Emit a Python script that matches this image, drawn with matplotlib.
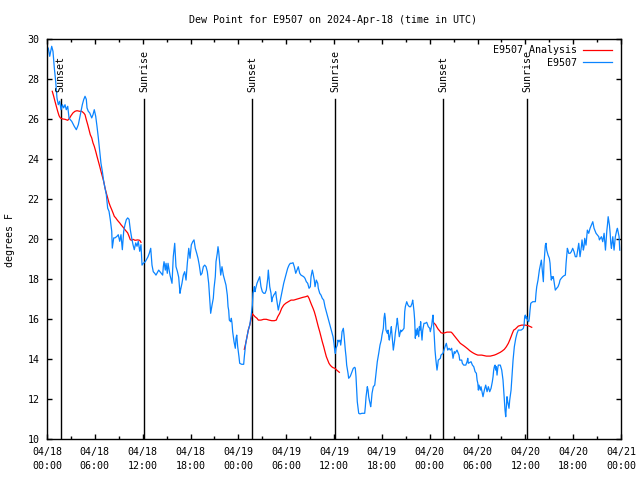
#!/usr/bin/env python
# -*- coding: utf-8 -*-

import numpy as np
import pandas as pd
import matplotlib
matplotlib.use('Agg')
import matplotlib.pyplot as plt
import matplotlib.dates as mdates

# hours after 2024-04-18 00:00 UTC, dew point in deg F
obs_hours = [0.16, 0.34, 0.59, 0.75, 0.92, 1.09, 1.25, 1.42, 1.59, 1.76, 1.92, 2.09, 2.26, 2.42, 2.60,
             2.76, 2.92, 3.10, 3.42, 3.68, 3.93, 4.10, 4.27, 4.43, 4.60, 4.77, 4.93, 5.02, 5.18, 5.36,
             5.61, 5.77, 5.93, 6.11, 6.27, 6.44, 6.61, 6.77, 6.94, 7.11, 7.28, 7.44, 7.61, 7.78, 7.94,
             8.12, 8.19, 8.37, 8.53, 8.78, 8.94, 9.12, 9.28, 9.45, 9.62, 9.78, 9.95, 10.12, 10.29, 10.45,
             10.62, 10.79, 10.95, 11.13, 11.29, 11.45, 11.63, 11.79, 11.92, 12.08, 12.33, 12.67, 12.83,
             13.01, 13.17, 13.33, 13.51, 13.67, 14.01, 14.34, 14.51, 14.59, 14.68, 14.84, 14.93, 15.09,
             15.18, 15.43, 15.59, 15.68, 15.84, 16.02, 16.18, 16.35, 16.52, 16.68, 16.77, 16.93, 17.10,
             17.27, 17.44, 17.60, 17.78, 17.94, 18.10, 18.28, 18.44, 18.60, 18.78, 18.94, 19.10, 19.28,
             19.44, 19.61, 19.78, 19.95, 20.11, 20.28, 20.36, 20.45, 20.53, 20.70, 20.86, 20.95, 21.11,
             21.20, 21.36, 21.45, 21.54, 21.70, 21.79, 21.95, 22.12, 22.29, 22.45, 22.62, 22.71, 22.79,
             22.87, 23.04, 23.12, 23.21, 23.29, 23.46, 23.62, 23.71, 23.80, 23.92, 24.08, 24.17, 24.42,
             24.67, 24.75, 24.84, 24.93, 25.09, 25.25, 25.43, 25.59, 25.76, 25.84, 25.93, 26.01, 26.09,
             26.18, 26.34, 26.51, 26.68, 26.76, 26.84, 27.01, 27.19, 27.35, 27.51, 27.69, 27.76, 27.85,
             27.94, 28.10, 28.19, 28.26, 28.44, 28.60, 28.69, 28.76, 28.85, 28.94, 29.01, 29.19, 29.35,
             29.52, 29.69, 29.85, 30.02, 30.19, 30.36, 30.52, 30.70, 30.86, 31.02, 31.20, 31.36, 31.52,
             31.70, 31.86, 32.03, 32.20, 32.36, 32.53, 32.70, 32.87, 33.03, 33.12, 33.28, 33.37, 33.45,
             33.53, 33.62, 33.78, 33.96, 34.03, 34.21, 34.37, 34.53, 34.71, 34.87, 35.04, 35.21, 35.37,
             35.54, 35.71, 35.88, 36.00, 36.09, 36.17, 36.25, 36.42, 36.50, 36.59, 36.75, 36.84, 36.92,
             37.01, 37.17, 37.26, 37.42, 37.51, 37.59, 37.76, 37.84, 38.01, 38.10, 38.26, 38.42, 38.60,
             38.67, 38.76, 38.85, 38.92, 39.10, 39.26, 39.51, 39.85, 39.93, 40.02, 40.10, 40.18, 40.27,
             40.35, 40.43, 40.52, 40.60, 40.68, 40.77, 40.93, 41.11, 41.18, 41.27, 41.35, 41.43, 41.61,
             41.77, 41.93, 42.02, 42.19, 42.27, 42.36, 42.44, 42.52, 42.69, 42.78, 42.86, 42.94, 43.03,
             43.11, 43.19, 43.28, 43.36, 43.44, 43.53, 43.61, 43.69, 43.87, 43.94, 44.03, 44.12, 44.19,
             44.28, 44.37, 44.44, 44.62, 44.78, 44.87, 44.95, 45.12, 45.28, 45.45, 45.62, 45.79, 45.87,
             45.95, 46.04, 46.12, 46.20, 46.29, 46.37, 46.45, 46.63, 46.70, 46.79, 46.87, 46.95, 47.04,
             47.13, 47.29, 47.45, 47.63, 47.83, 48.01, 48.08, 48.26, 48.33, 48.42, 48.51, 48.58, 48.67,
             48.76, 48.83, 48.92, 49.01, 49.08, 49.34, 49.42, 49.67, 49.93, 50.09, 50.26, 50.43, 50.59,
             50.76, 50.93, 51.09, 51.18, 51.43, 51.68, 51.77, 52.02, 52.10, 52.27, 52.53, 52.69, 52.78,
             52.85, 53.19, 53.36, 53.53, 53.70, 53.86, 53.95, 54.04, 54.11, 54.19, 54.36, 54.44, 54.61,
             54.69, 54.86, 55.03, 55.20, 55.36, 55.53, 55.70, 55.86, 55.95, 56.03, 56.11, 56.20, 56.28,
             56.36, 56.45, 56.54, 56.61, 56.86, 57.04, 57.12, 57.20, 57.29, 57.37, 57.45, 57.54, 57.62,
             57.70, 57.79, 57.95, 58.04, 58.21, 58.29, 58.37, 58.46, 58.54, 58.62, 58.80, 58.96, 59.12,
             59.46, 59.62, 59.75, 59.84, 59.92, 60.00, 60.09, 60.17, 60.25, 60.43, 60.50, 60.59, 60.68,
             60.93, 61.26, 61.34, 61.43, 61.59, 61.76, 61.93, 62.01, 62.09, 62.18, 62.26, 62.34, 62.43,
             62.51, 62.60, 62.68, 62.85, 63.01, 63.10, 63.18, 63.26, 63.35, 63.43, 63.51, 63.60, 63.68,
             63.76, 63.93, 64.10, 64.26, 64.35, 64.51, 64.69, 64.85, 65.02, 65.11, 65.19, 65.27, 65.35,
             65.44, 65.61, 65.77, 65.94, 66.11, 66.27, 66.44, 66.61, 66.70, 66.86, 67.03, 67.11, 67.28,
             67.36, 67.45, 67.61, 67.70, 67.78, 67.95, 68.12, 68.29, 68.46, 68.62, 68.79, 68.87, 69.21,
             69.29, 69.54, 69.71, 69.88, 70.05, 70.23, 70.30, 70.39, 70.55, 70.64, 70.72, 70.80, 70.97,
             71.13, 71.29, 71.47, 71.55, 71.76, 71.84]
obs_dewpt = [29.56, 29.15, 29.65, 29.40, 28.56, 27.90, 27.07, 26.73, 26.90, 26.48, 26.73, 26.57, 26.73, 26.48, 26.65,
             26.07, 25.98, 25.90, 25.65, 25.48, 25.73, 26.07, 26.40, 26.73, 26.98, 27.15, 27.00, 26.57, 26.40, 26.32,
             26.07, 26.23, 26.48, 26.15, 25.65, 25.07, 24.40, 23.80, 23.40, 22.90, 22.56, 22.23, 21.56, 21.40, 20.98,
             20.40, 19.56, 20.07, 20.07, 20.15, 20.23, 19.90, 20.23, 19.48, 20.40, 20.73, 20.98, 21.07, 21.00, 20.48,
             20.07, 19.73, 19.48, 19.82, 19.65, 19.90, 19.40, 19.73, 18.71, 18.80, 18.88, 19.13, 19.30,
             19.55, 18.71, 18.38, 18.30, 18.21, 18.46, 18.30, 18.21, 18.63, 18.88, 18.46, 18.80, 18.30,
             18.80, 18.21, 17.96, 17.80, 19.13, 19.80, 18.63, 18.40, 18.10, 17.30, 17.50, 17.80, 18.21,
             18.38, 17.96, 18.80, 19.55, 19.05, 19.72, 19.88, 19.97, 19.55, 19.30, 19.05, 18.71, 18.21,
             18.30, 18.63, 18.71, 18.63, 18.38, 17.80, 17.30, 16.80, 16.30, 16.71, 17.05, 17.55, 18.13,
             18.88, 19.30, 19.63, 19.38, 18.63, 18.21, 18.63, 18.21, 17.96, 17.71, 17.20, 16.63, 16.45,
             15.96, 15.88, 16.05, 15.80, 15.38, 14.88, 14.55, 15.05, 15.21, 14.63, 14.13, 13.80, 13.75,
             13.75, 14.13, 14.46, 14.80, 15.13, 15.46, 15.71, 16.13, 16.71, 17.30, 17.46, 17.63, 17.38,
             17.55, 17.80, 17.96, 18.13, 17.88, 17.63, 17.38, 17.30, 17.30, 17.46, 18.05, 18.46, 18.05,
             17.63, 17.30, 16.88, 17.05, 17.21, 17.30, 17.38, 17.13, 16.88, 16.63, 16.46, 16.80, 17.13,
             17.46, 17.80, 18.05, 18.30, 18.55, 18.71, 18.80, 18.80, 18.83, 18.63, 18.30, 18.46, 18.63,
             18.30, 18.21, 18.17, 18.13, 18.05, 17.88, 17.80, 17.55, 17.63, 18.13, 18.46, 18.30, 18.13,
             17.96, 17.63, 17.96, 17.80, 17.55, 17.30, 17.21, 17.05, 16.96, 16.63, 16.38, 16.13, 15.88,
             15.63, 15.38, 15.13, 14.80, 14.46, 14.30, 14.55, 14.71, 14.96, 14.88, 14.96, 14.71, 14.96,
             15.38, 15.55, 15.21, 14.46, 14.13, 13.71, 13.30, 13.05, 13.13, 13.21, 13.38, 13.55, 13.60,
             13.55, 13.13, 12.46, 11.88, 11.30, 11.27, 11.30, 11.30, 11.63, 12.13, 12.38, 12.63, 12.46,
             12.13, 11.96, 11.80, 11.63, 11.88, 12.30, 12.63, 12.71, 12.96, 13.30, 13.55, 13.88, 14.30,
             14.71, 14.96, 15.21, 15.55, 16.05, 16.30, 16.05, 15.46, 15.30, 15.46, 15.13, 14.96, 15.21,
             15.38, 15.63, 15.21, 14.80, 14.46, 14.71, 14.96, 15.30, 15.80, 16.05, 15.71, 15.38, 15.13,
             15.30, 15.46, 15.38, 15.46, 15.55, 16.38, 16.63, 16.88, 16.71, 16.63, 16.63, 16.80, 16.96,
             16.71, 16.38, 15.96, 15.05, 15.46, 15.21, 15.55, 15.13, 15.63, 15.46, 15.88, 15.38, 14.96,
             15.46, 15.80, 15.80, 15.85, 15.63, 15.55, 15.38, 15.71, 15.96, 16.21, 15.63, 15.13, 14.46,
             14.05, 13.80, 13.46, 13.71, 13.96, 14.05, 14.21, 14.30, 14.63, 14.80, 14.46, 14.55, 14.46,
             14.55, 14.05, 14.38, 14.30, 14.46, 14.21, 13.96, 13.96, 13.80, 13.71, 13.71, 13.88, 14.05,
             13.80, 13.88, 13.71, 13.63, 13.38, 13.30, 12.96, 12.80, 12.46, 12.71, 12.46, 12.63, 12.30,
             12.13, 12.46, 12.71, 12.38, 12.63, 12.38, 12.55, 12.88, 13.13, 13.46, 13.63, 13.71, 13.46,
             13.63, 13.21, 13.55, 13.71, 13.71, 13.46, 13.21, 12.96, 12.46, 11.96, 11.46, 11.13, 11.63,
             12.13, 11.88, 11.55, 11.96, 12.46, 12.96, 13.46, 13.96, 14.30, 14.63, 15.05, 15.30, 15.46,
             15.46, 15.50, 15.55, 15.71, 16.13, 16.21, 16.05, 16.13, 15.96, 15.88, 16.05, 16.46, 16.80,
             16.88, 16.88, 17.30, 17.63, 17.96, 18.46, 18.80, 18.96, 18.63, 18.21, 17.88, 18.80, 19.30,
             19.71, 19.80, 19.46, 19.21, 19.05, 18.80, 18.30, 17.96, 18.13, 18.05, 18.13, 17.88, 17.63,
             17.46, 17.55, 17.63, 17.80, 17.96, 18.05, 18.13, 18.18, 18.21, 18.80, 19.21, 19.55, 19.46,
             19.30, 19.30, 19.38, 19.55, 19.38, 19.13, 19.13, 19.55, 19.80, 19.13, 19.63, 19.97, 19.46,
             19.63, 20.05, 19.71, 20.13, 20.46, 20.30, 20.55, 20.71, 20.88, 20.55, 20.38, 20.30, 20.13,
             19.97, 20.13, 19.88, 20.30, 19.46, 20.46, 20.71, 21.13, 20.71, 20.30, 19.80, 19.55, 20.13,
             19.46, 20.13, 20.46, 20.55, 20.13, 19.46]

# analysis curve, three separate pieces
ana1_hours = [0.66, 0.84, 1.00, 1.17, 1.34, 1.51, 1.67, 1.92, 2.26, 2.60, 2.85, 3.01, 3.26, 3.51, 3.76,
              4.10, 4.35, 4.60, 4.77, 4.93, 5.11, 5.27, 5.43, 5.61, 5.77, 5.93, 6.11, 6.27, 6.44, 6.61,
              6.77, 6.94, 7.11, 7.28, 7.44, 7.61, 7.78, 7.94, 8.12, 8.28, 8.44, 8.62, 8.78, 8.94, 9.12,
              9.28, 9.45, 9.62, 9.78, 9.95, 10.12, 10.29, 10.45, 10.62, 10.79, 11.04, 11.38, 11.63, 11.79]
ana1_dewpt = [27.40, 27.15, 26.90, 26.65, 26.40, 26.18, 26.07, 26.02, 26.00, 25.95, 26.07, 26.18, 26.32, 26.40, 26.43,
              26.40, 26.40, 26.32, 26.23, 25.98, 25.73, 25.48, 25.23, 25.07, 24.82, 24.65, 24.40, 24.15, 23.90, 23.65,
              23.40, 23.15, 22.90, 22.56, 22.31, 22.07, 21.82, 21.65, 21.48, 21.32, 21.15, 21.07, 20.98, 20.90, 20.82,
              20.73, 20.65, 20.57, 20.48, 20.40, 20.32, 20.15, 19.98, 19.95, 20.00, 19.95, 19.97, 19.95, 19.85]
ana2_hours = [24.75, 24.93, 25.09, 25.25, 25.46, 25.76, 25.93, 26.09, 26.34, 26.51, 26.84, 27.19, 27.51, 27.85,
              28.19, 28.51, 28.76, 28.94, 29.19, 29.44, 29.69, 29.94, 30.27, 30.61, 30.95, 31.27, 31.70, 32.11,
              32.45, 32.70, 32.87, 33.03, 33.20, 33.37, 33.53, 33.71, 33.87, 34.03, 34.21, 34.37, 34.53, 34.71,
              34.87, 35.04, 35.21, 35.37, 35.54, 35.71, 35.88, 36.13, 36.34, 36.67]
ana2_dewpt = [14.50, 14.80, 15.13, 15.46, 15.75, 16.28, 16.20, 16.13, 16.05, 15.96, 15.96, 16.00, 16.00, 15.96,
              15.93, 15.93, 15.96, 16.13, 16.30, 16.55, 16.71, 16.80, 16.88, 16.96, 16.96, 17.00, 17.05, 17.10,
              17.13, 17.17, 17.05, 16.88, 16.71, 16.55, 16.38, 16.13, 15.88, 15.63, 15.38, 15.13, 14.88, 14.63,
              14.38, 14.13, 13.96, 13.80, 13.70, 13.63, 13.58, 13.55, 13.46, 13.35]
ana3_hours = [48.58, 48.76, 48.92, 49.08, 49.26, 49.42, 49.67, 49.93, 50.18, 50.43, 50.68, 50.85, 51.02, 51.18,
              51.34, 51.52, 51.68, 51.84, 52.02, 52.27, 52.53, 52.78, 53.03, 53.28, 53.53, 53.78, 54.04, 54.53,
              55.11, 55.61, 56.11, 56.36, 56.61, 56.86, 57.12, 57.37, 57.62, 57.87, 58.04, 58.21, 58.37, 58.54,
              58.74, 59.12, 59.54, 59.96, 60.37, 60.80]
ana3_dewpt = [15.80, 15.72, 15.60, 15.50, 15.42, 15.33, 15.30, 15.33, 15.36, 15.36, 15.36, 15.30, 15.21, 15.13,
              15.05, 14.96, 14.88, 14.80, 14.75, 14.68, 14.60, 14.52, 14.43, 14.36, 14.30, 14.25, 14.21, 14.21,
              14.16, 14.16, 14.21, 14.25, 14.30, 14.35, 14.42, 14.50, 14.63, 14.80, 14.96, 15.13, 15.30, 15.46,
              15.51, 15.66, 15.71, 15.71, 15.68, 15.60]

sun_labels = ['Sunset', 'Sunrise', 'Sunset', 'Sunrise', 'Sunset', 'Sunrise']
sun_times = ['2024-04-18 01:43', '2024-04-18 12:12', '2024-04-19 01:45',
             '2024-04-19 12:10', '2024-04-20 01:42', '2024-04-20 12:16']

t0 = pd.Timestamp('2024-04-18 00:00')


def to_time(hours):
    return t0 + pd.to_timedelta(np.array(hours), unit='h')


if __name__ == '__main__':
    plt.rcParams['font.family'] = ['DejaVu Sans Mono']
    plt.rcParams['font.size'] = 7.2

    fig = plt.figure(figsize=(6.4, 4.8), dpi=100)
    W, H = 640.0, 480.0
    ax = fig.add_axes([47 / W, 1 - 439.3 / H, (621 - 47) / W, 400 / H])

    red = '#ff0000'
    blue = '#0a84ff'

    ax.plot(to_time(ana1_hours), ana1_dewpt, color=red, lw=0.9, label='E9507 Analysis')
    ax.plot(to_time(ana2_hours), ana2_dewpt, color=red, lw=0.9)
    ax.plot(to_time(ana3_hours), ana3_dewpt, color=red, lw=0.9)
    ax.plot(to_time(obs_hours), obs_dewpt, color=blue, lw=0.9, label='E9507')

    # sunrise / sunset markers
    for lab, ts in zip(sun_labels, sun_times):
        t = pd.Timestamp(ts)
        ax.plot([t, t], [10, 27.0], color='black', lw=1.0, zorder=1)
        ax.text(t, 27.38, lab, rotation=90, ha='center', va='bottom')

    ax.set_xlim(pd.Timestamp('2024-04-18 00:00'), pd.Timestamp('2024-04-21 00:00'))
    ax.set_ylim(10, 30)
    ax.set_yticks(np.arange(10, 31, 2))
    ax.xaxis.set_major_locator(mdates.HourLocator(byhour=[0, 6, 12, 18]))
    ax.xaxis.set_minor_locator(mdates.HourLocator(byhour=[3, 9, 15, 21]))
    ax.xaxis.set_major_formatter(mdates.DateFormatter('%m/%d\n%H:%M'))

    ax.tick_params(which='both', direction='in', top=True, right=True, width=1.0)
    ax.tick_params(which='major', length=3.6)
    ax.tick_params(which='minor', length=2.2)
    ax.tick_params(axis='x', pad=5.2)
    ax.tick_params(axis='y', pad=5.5)
    for lbl in ax.get_xticklabels():
        lbl.set_linespacing(1.55)
    for s in ax.spines.values():
        s.set_linewidth(1.0)

    fig.text(333 / W, 1 - 20 / H, 'Dew Point for E9507 on 2024-Apr-18 (time in UTC)',
             ha='center', va='center')
    fig.text(10 / W, 1 - 240 / H, 'degrees F', rotation=90, ha='center', va='center')

    leg = ax.legend(loc='upper right', bbox_to_anchor=(612 / W, 1 - 45 / H),
                    bbox_transform=fig.transFigure, frameon=False, markerfirst=False,
                    handlelength=2.87, handletextpad=0.6, labelspacing=0.25,
                    borderpad=0, borderaxespad=0)

    fig.savefig('out.png', dpi=100)
